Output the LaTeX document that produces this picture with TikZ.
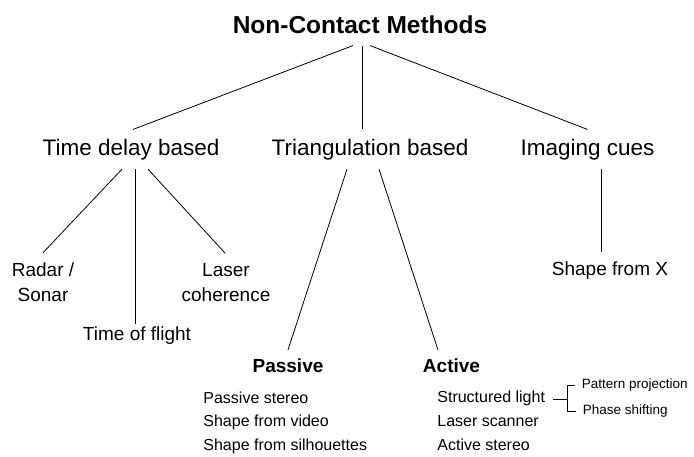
\documentclass[tikz,border=0pt]{standalone}
\usepackage{fontspec}
\setmainfont{Liberation Sans}
\usetikzlibrary{positioning}

\begin{document}
\begin{tikzpicture}[node distance=3cm,on grid,auto,line width=0.8pt,
		top/.style={font=\bfseries\fontsize{24.5}{29}\selectfont,text height=17.6pt,text depth=5.1pt,inner xsep=0pt,inner ysep=7pt},
		group/.style={font=\fontsize{22.5}{27}\selectfont,text height=16.2pt,text depth=4.7pt,inner xsep=0pt,inner ysep=9pt},
		method/.style={font=\fontsize{19}{25}\selectfont,inner xsep=0pt,inner ysep=10pt},
		kind/.style={font=\bfseries\fontsize{19}{23}\selectfont,text height=13.7pt,text depth=4pt,inner xsep=0pt,inner ysep=8pt},
		item/.style={font=\fontsize{16}{19}\selectfont,text height=11.5pt,text depth=3.4pt,inner sep=0pt,anchor=west},
		subitem/.style={font=\fontsize{13.5}{16}\selectfont,text height=9.7pt,text depth=2.8pt,inner sep=0pt,anchor=west}]
			\useasboundingbox (0pt,0pt) rectangle (694pt,-457pt);
			\node[top] (0) at (360pt,-26.8pt) {Non-Contact Methods};
			\node[group] (1) [below left=122.5pt and 229pt of 0] {Time delay based};
				\path ([xshift=-7pt]0.south) edge ([xshift=2pt]1.north);
			\node[group] (2) [below right=122.5pt and 10pt of 0] {Triangulation based};
				\path ([xshift=2pt]0.south) edge ([xshift=-8pt]2.north);
			\node[group] (3) [right=217.5pt of 2] {Imaging cues};
				\path ([xshift=10pt]0.south) edge (3.north);
			\node[method,align=center] (4) [below left=133.3pt and 88pt of 1] {Radar /\\Sonar};
				\path ([xshift=-9pt]1.south) edge (4.north);
			\node[method,align=center] (5) [below right=133.3pt and 95pt of 1] {Laser\\coherence};
				\path ([xshift=17pt]1.south) edge ([xshift=-1pt]5.north);
			\node[method,text height=13.7pt,text depth=4pt,inner ysep=1.5pt] (6) [below right=185.9pt and 6pt of 1] {Time of flight};
				\path ([xshift=4pt]1.south) edge ([xshift=-2pt]6.north);
			\node[kind] (7) [below left=217.9pt and 82pt of 2] {Passive};
				\path ([xshift=-23pt]2.south) edge (7.north);
			\node[kind] (8) [below right=217.9pt and 81.5pt of 2] {Active};
				\path ([xshift=9pt]2.south) edge ([xshift=-13.5pt]8.north);
			\node[method,text height=13.7pt,text depth=4pt,inner ysep=9pt] (9) [below right=120.9pt and 22.5pt of 3] {Shape from X};
				\path ([xshift=13.5pt]3.south) edge ([xshift=-9pt]9.north);
			\node (10) [below left=32.7pt and 85pt of 7,item] {Passive stereo};
			\node (11) [below=23pt of 10.west,item] {Shape from video};
			\node (12) [below=24pt of 11.west,item] {Shape from silhouettes};
			\node (13) [below left=31.7pt and 14.5pt of 8,item] {Structured light};
			\node (14) [below=24pt of 13.west,item] {Laser scanner};
			\node (15) [below=24pt of 14.west,item] {Active stereo};
			\coordinate[right=22pt of 13.east] (b);
				\path ([xshift=8pt]13.east) edge (b);
			\node (16) [above right=13.4pt and 14pt of b,subitem] {Pattern projection};
			\node (17) [below right=12.6pt and 15pt of b,subitem] {Phase shifting};
				\draw ([xshift=-6pt]16.west) -| (b) |- ([xshift=-6pt]17.west);
		\end{tikzpicture}
\end{document}
